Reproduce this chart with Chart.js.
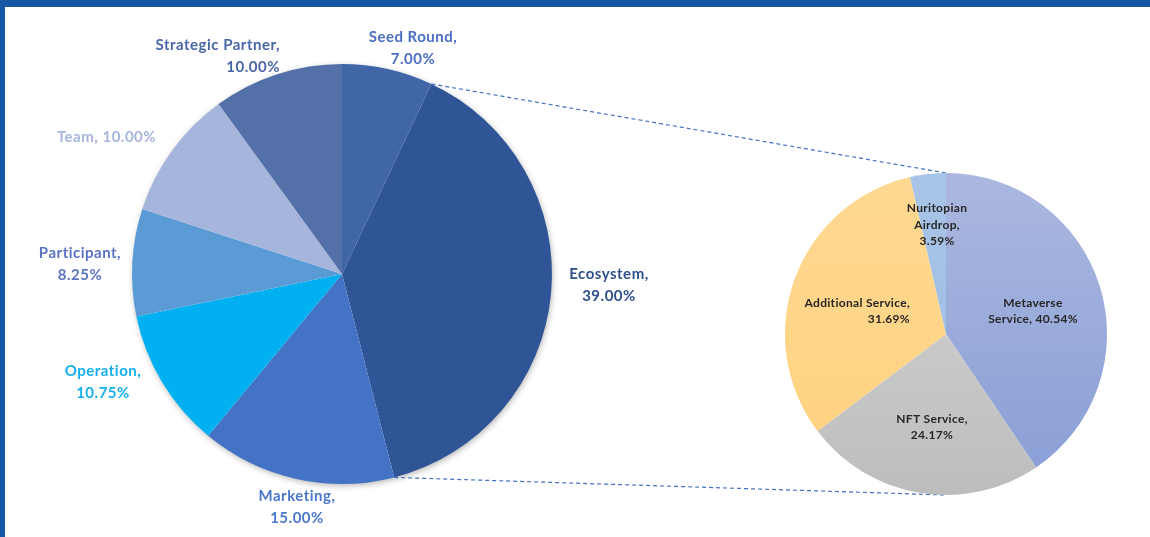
<!DOCTYPE html>
<html><head><meta charset="utf-8">
<script src="https://cdn.jsdelivr.net/npm/chart.js@4.4.1/dist/chart.umd.min.js"></script>
<style>
html,body{margin:0;padding:0;background:#fff;}
#wrap{position:relative;width:1150px;height:537px;overflow:hidden;background:#fff;}
.cv{position:absolute;left:0;top:0;width:1150px;height:537px;}
.frameTop{position:absolute;left:0;top:0;width:1150px;height:7px;background:#1757A6;}
.frameLeft{position:absolute;left:0;top:0;width:5px;height:537px;background:#1757A6;}
</style></head>
<body><div id="wrap">
<div class="cv"><canvas id="c1"></canvas></div>
<div class="cv"><canvas id="c2"></canvas></div>
<div class="frameTop"></div><div class="frameLeft"></div>
</div>
<script>
// ---- data ----
const mainLabels = ['Seed Round','Ecosystem','Marketing','Operation','Participant','Team','Strategic Partner'];
const mainValues = [7, 39, 15, 10.75, 8.25, 10, 10];
const mainColors = ['#4166A7','#2F5597','#4472C4','#00B0F0','#5B9BD5','#A6B5DB','#5470A8'];
const mainTextColors = ['#4A6FC2','#2F4F8C','#4A78CC','#14B0EE','#5A73C2','#A6B5DB','#4A65A8'];

const subLabels = ['Metaverse Service','NFT Service','Additional Service','Nuritopian Airdrop'];
const subValues = [40.54, 24.17, 31.69, 3.59];
const subGrad = [['#ABB7DF','#889ED6'],['#D6D6D6','#BDBDBD'],['#FFD892','#FFD27E'],['#A8C4E6','#9BBCE5']];

// text layout of labels (lines, offset from pie centre, alignment)
const mainLabelLayout = [
  {lines:['Seed Round,','7.00%'], dx:71, dy:-226, align:'center'},
  {lines:['Ecosystem,','39.00%'], dx:267, dy:11, align:'center'},
  {lines:['Marketing,','15.00%'], dx:-45, dy:233.5, align:'center'},
  {lines:['Operation,','10.75%'], dx:-239, dy:108, align:'center'},
  {lines:['Participant,','8.25%'], dx:-262, dy:-10, align:'center'},
  {lines:['Team, 10.00%'], dx:-235.5, dy:-137, align:'center'},
  {lines:['Strategic Partner,','10.00%'], dx:-62, dy:-217.5, align:'right'}
];
const subLabelLayout = [
  {lines:['Metaverse','Service, 40.54%'], dx:87, dy:-23, align:'center'},
  {lines:['NFT Service,','24.17%'], dx:-14, dy:93, align:'center'},
  {lines:['Additional Service,','31.69%'], dx:-36, dy:-23, align:'right'},
  {lines:['Nuritopian','Airdrop,','3.59%'], dx:-9, dy:-109, align:'center'}
];

function drawLabels(chart, layout, colors, font, lh, spacing){
  const ctx = chart.ctx;
  const arc = chart.getDatasetMeta(0).data[0];
  const cx = arc.x, cy = arc.y;
  ctx.save();
  ctx.font = font;
  if ('letterSpacing' in ctx) ctx.letterSpacing = spacing;
  ctx.textBaseline = 'middle';
  layout.forEach((L, i) => {
    ctx.fillStyle = colors[i];
    ctx.textAlign = L.align;
    const n = L.lines.length;
    L.lines.forEach((t, k) => {
      const y = cy + L.dy + (k - (n-1)/2) * lh;
      ctx.fillText(t, cx + L.dx, y);
    });
  });
  ctx.restore();
}

const shadowPlugin = {
  id:'shadow',
  beforeDatasetsDraw(chart){
    const arc = chart.getDatasetMeta(0).data[0];
    const ctx = chart.ctx;
    ctx.save();
    ctx.shadowColor = 'rgba(0,0,0,0.30)';
    ctx.shadowBlur = 6;
    ctx.shadowOffsetX = 1;
    ctx.shadowOffsetY = 2;
    ctx.fillStyle = '#ffffff';
    ctx.beginPath();
    ctx.arc(arc.x, arc.y, arc.outerRadius - 0.5, 0, Math.PI*2);
    ctx.fill();
    ctx.restore();
  }
};

const chart1 = new Chart(document.getElementById('c1'), {
  type:'pie',
  data:{labels:mainLabels, datasets:[{data:mainValues, backgroundColor:mainColors, borderWidth:0}]},
  options:{
    responsive:true, maintainAspectRatio:false, animation:false,
    layout:{padding:{left:132, right:598, top:64, bottom:53}},
    plugins:{legend:{display:false}, tooltip:{enabled:false}}
  },
  plugins:[shadowPlugin, {
    id:'mainLabels',
    afterDraw(chart){ drawLabels(chart, mainLabelLayout, mainTextColors, 'bold 15px Lato', 22, '0.5px'); }
  }]
});

const chart2 = new Chart(document.getElementById('c2'), {
  type:'pie',
  data:{labels:subLabels, datasets:[{data:subValues, borderWidth:0,
    backgroundColor:(c) => {
      const ca = c.chart.chartArea;
      const g = subGrad[c.dataIndex];
      if (!ca) return g[0];
      const grad = c.chart.ctx.createLinearGradient(0, ca.top, 0, ca.bottom);
      grad.addColorStop(0, g[0]); grad.addColorStop(1, g[1]);
      return grad;
    }}]},
  options:{
    responsive:true, maintainAspectRatio:false, animation:false,
    layout:{padding:{left:785, right:43, top:173, bottom:42}},
    plugins:{legend:{display:false}, tooltip:{enabled:false}}
  },
  plugins:[{
    id:'connector',
    beforeDatasetsDraw(chart){
      const eco = chart1.getDatasetMeta(0).data[1];
      const sub = chart.getDatasetMeta(0).data[0];
      const r1 = eco.outerRadius, r2 = sub.outerRadius;
      const p1 = [eco.x + r1*Math.cos(eco.startAngle), eco.y + r1*Math.sin(eco.startAngle)];
      const p2 = [eco.x + r1*Math.cos(eco.endAngle), eco.y + r1*Math.sin(eco.endAngle)];
      const ctx = chart.ctx;
      ctx.save();
      ctx.strokeStyle = '#4472C4';
      ctx.lineWidth = 1.2;
      ctx.setLineDash([4,3]);
      ctx.beginPath();
      ctx.moveTo(p1[0], p1[1]); ctx.lineTo(sub.x, sub.y - r2);
      ctx.moveTo(p2[0], p2[1]); ctx.lineTo(sub.x, sub.y + r2);
      ctx.stroke();
      ctx.restore();
    },
    afterDraw(chart){ drawLabels(chart, subLabelLayout, ['#262626','#262626','#262626','#262626'], 'bold 12px Lato', 16.5, '0.3px'); }
  }]
});
</script>
</body></html>
